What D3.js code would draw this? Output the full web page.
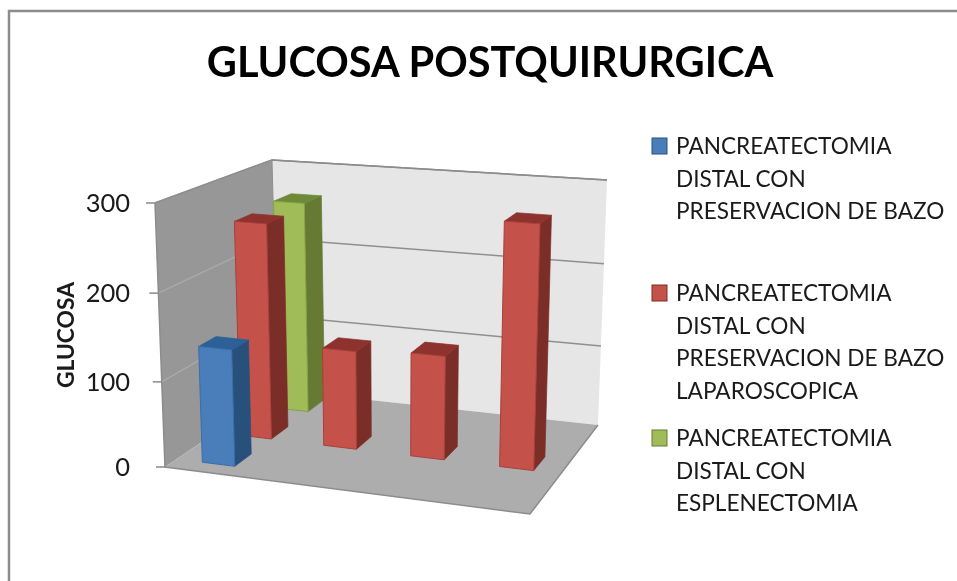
<!DOCTYPE html>
<html><head><meta charset="utf-8">
<script src="https://cdn.jsdelivr.net/npm/d3@7/dist/d3.min.js"></script>
<style>html,body{margin:0;padding:0;background:#fff;overflow:hidden}svg{display:block;filter:blur(0.4px)}text{font-family:Lato,"Open Sans",sans-serif;fill:#1a1a1a}</style>
</head><body><svg id="c" width="957" height="581"></svg>
<script>
// Data
const titleText = "GLUCOSA POSTQUIRURGICA";
const axisTitle = "GLUCOSA";
const categories = ["A","B","C","D"];
const seriesNames = ["azul","rojo","verde"];
const blueValues  = [136, null, null, null];
const redValues   = [258, 118, 123, 282];
const greenValues = [262, null, null, null];
const yTicks = [0,100,200,300];
const legendLines = [
 ["PANCREATECTOMIA","DISTAL CON","PRESERVACION DE BAZO"],
 ["PANCREATECTOMIA","DISTAL CON","PRESERVACION DE BAZO","LAPAROSCOPICA"],
 ["PANCREATECTOMIA","DISTAL CON","ESPLENECTOMIA"]];

const series = [
 {values:blueValues, front:"#4a7ebb", side:"#27507a", top:"#2d6096", edge:"#3a6ea8"},
 {values:redValues,  front:"#c4524a", side:"#7b2e28", top:"#8e322e", edge:"#a8403a"},
 {values:greenValues,front:"#9fbc58", side:"#677a33", top:"#6c8a38", edge:"#86a344"}];

const svg = d3.select("#c");
// Box corners as seen in the picture: [width(0/1)][depth(0/1)][height(0/1)]
const C = {
 "000":[165,467],"100":[530,514],"010":[278,390],"110":[598,425],
 "001":[155,203],"101":[537,234],"011":[272,160],"111":[607,180]};
const uPersp = d3.scalePow().exponent(1.05).domain([0,1]).range([0,1]);
function proj(u0,d,h){
 const u=uPersp(u0);
 let x=0,y=0;
 for(const a of [0,1])for(const b of [0,1])for(const c of [0,1]){
  const w=(a?u:1-u)*(b?d:1-d)*(c?h:1-h), p=C[""+a+b+c];
  x+=w*p[0];y+=w*p[1];
 }
 return [x,y];
}
const hScale = d3.scalePow().exponent(1.03).domain([0,300]).range([0,1]);
const uScale = d3.scaleBand().domain(categories).range([0.003,1.003]).paddingInner(0.62).paddingOuter(0.31);
const dScale = d3.scaleBand().domain(seriesNames).range([0.009,1.049]).paddingInner(0.55).paddingOuter(0.275);
const line = d3.line();
const poly = pts => line(pts)+"Z";

// Frame
svg.append("path").attr("d","M9,590V11H970").attr("fill","none").attr("stroke","#8c8c8c").attr("stroke-width",2.5);

// Walls and floor
svg.append("path").attr("d",poly([proj(0,1,0),proj(1,1,0),proj(1,1,1),proj(0,1,1)])).attr("fill","#e6e6e6");
svg.append("path").attr("d",poly([proj(0,0,0),proj(0,1,0),proj(0,1,1),proj(0,0,1)])).attr("fill","#979797");
svg.append("path").attr("d",poly([proj(0,0,0),proj(1,0,0),proj(1,1,0),proj(0,1,0)])).attr("fill","#adadad");

// Gridlines
yTicks.forEach(t=>{
 const h=hScale(t);
 if(t>0){
  svg.append("path").attr("d",line([proj(0,1,h),proj(1,1,h)])).attr("fill","none").attr("stroke","#8f8f8f").attr("stroke-width",1.5);
  svg.append("path").attr("d",line([proj(0,0,h),proj(0,1,h)])).attr("fill","none").attr("stroke","#a9a9a9").attr("stroke-width",1.5);
 }
 const p=proj(0,0,h);
 svg.append("path").attr("d",line([[p[0]-9,p[1]],p])).attr("fill","none").attr("stroke","#8a8a8a").attr("stroke-width",1.5);
 svg.append("text").attr("x",130).attr("y",p[1]+2.5).attr("text-anchor","end").attr("dominant-baseline","middle")
   .attr("font-size",25.5).text(t);
});
svg.append("path").attr("d",line([proj(0,1,1),proj(0,1,0)])).attr("fill","none").attr("stroke","#8f8f8f").attr("stroke-width",1);
svg.append("path").attr("d",line([proj(0,0,1),proj(0,0,0),proj(1,0,0),proj(1,1,0)])).attr("fill","none").attr("stroke","#8c8c8c").attr("stroke-width",1.5);
svg.append("path").attr("d",line([proj(0,0,1),proj(0,1,1),proj(1,1,1)])).attr("fill","none").attr("stroke","#8c8c8c").attr("stroke-width",1.5);

// Bars, back to front
[2,1,0].forEach(si=>{
 const s=series[si], d0=dScale(seriesNames[si]), d1=d0+dScale.bandwidth();
 s.values.forEach((v,ci)=>{
  if(v==null) return;
  const u0=uScale(categories[ci]), u1=u0+uScale.bandwidth(), h=hScale(v);
  const g=svg.append("g");
  g.append("path").attr("d",poly([proj(u1,d0,0),proj(u1,d1,0),proj(u1,d1,h),proj(u1,d0,h)])).attr("fill",s.side).attr("stroke",s.side).attr("stroke-width",.7);
  g.append("path").attr("d",poly([proj(u0,d0,h),proj(u1,d0,h),proj(u1,d1,h),proj(u0,d1,h)])).attr("fill",s.top).attr("stroke",s.top).attr("stroke-width",.7);
  g.append("path").attr("d",poly([proj(u0,d0,0),proj(u1,d0,0),proj(u1,d0,h),proj(u0,d0,h)])).attr("fill",s.front).attr("stroke",s.edge).attr("stroke-width",1);
 });
});

// Titles
svg.append("text").attr("x",490).attr("y",77).attr("text-anchor","middle").attr("font-weight",700).attr("font-size",41.5).attr("style","fill:#000").text(titleText);
svg.append("text").attr("transform","translate(74,335) rotate(-90)").attr("text-anchor","middle").attr("font-weight",700).attr("font-size",22.8).text(axisTitle);

// Legend
const legendY=[146,293,438], lineH=32.5;
legendLines.forEach((lines,i)=>{
 svg.append("rect").attr("x",652).attr("y",legendY[i]-8).attr("width",15).attr("height",16)
  .attr("fill",series[i].front).attr("stroke",series[i].side).attr("stroke-width",1);
 lines.forEach((t,j)=>{
  svg.append("text").attr("x",676).attr("y",legendY[i]+j*lineH+8).attr("font-size",22.6).text(t);
 });
});
</script></body></html>
